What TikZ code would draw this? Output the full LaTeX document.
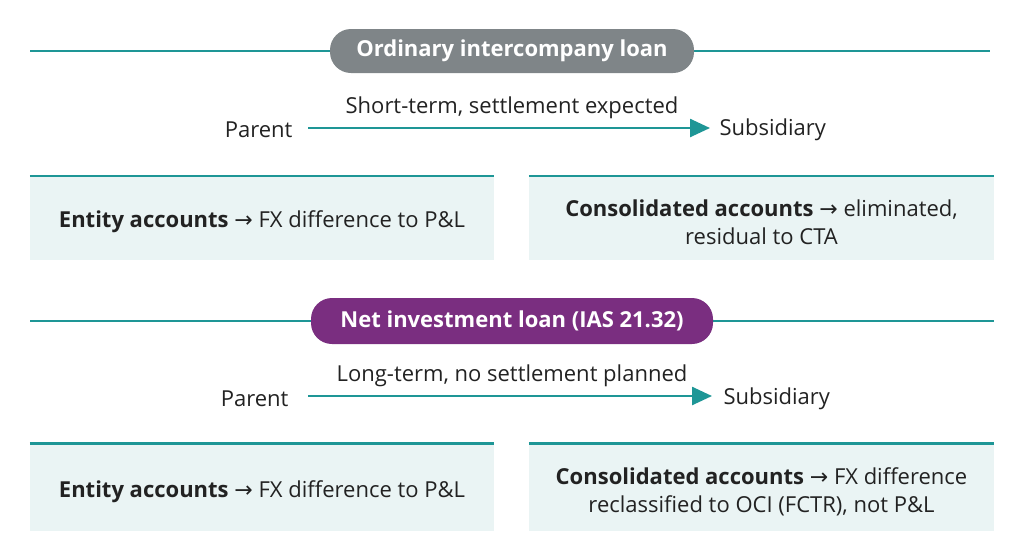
\documentclass[tikz,border=0pt]{standalone}
\usepackage{fontspec}
\setmainfont{Open Sans}
\newfontfamily\symf{DejaVu Sans}
\newcommand{\myarr}{{\symf →}}
\usetikzlibrary{arrows.meta}
\definecolor{teal1}{HTML}{1E9696}
\definecolor{boxbg}{HTML}{EAF4F4}
\definecolor{pillgray}{HTML}{7F8588}
\definecolor{pillpurple}{HTML}{7A2E80}
\definecolor{txt}{HTML}{222222}
\begin{document}
\begin{tikzpicture}[x=1pt,y=-1pt,
  rule/.style={teal1,line width=2.5pt},
  pill/.style={rounded corners=21pt,minimum height=44pt,text=white,font=\fontsize{22}{26}\selectfont\bfseries,inner xsep=18pt},
  lbl/.style={text=txt,font=\fontsize{22}{26}\selectfont},
  box/.style={fill=boxbg,draw=none,minimum height=84pt},
  btxt/.style={text=txt,font=\fontsize{22}{28}\selectfont,align=center},
  arr/.style={teal1,line width=2.5pt,-{Triangle[length=20pt,width=18pt]}}]
\useasboundingbox (0,0) rectangle (1024,558);
% section 1
\coordinate (l1a) at (30,51); \coordinate (l1b) at (990,51);
\draw[rule] (l1a) -- (l1b);
\node[pill,fill=pillgray,minimum width=364pt] (p1) at (512,51) {\raisebox{-2pt}{Ordinary intercompany loan}};
\node[lbl,anchor=east] (par1) at (296,130) {Parent};
\node[lbl,anchor=west] (sub1) at (716,130) {Subsidiary};
\draw[arr] (308,128) coordinate(a1) -- (710,128) coordinate(b1);
\node[lbl] (t1) at (512,108) {Short-term, settlement expected};
\node[box,minimum width=464pt] (b1l) at (262,218) {};
\node[box,minimum width=465pt] (b1r) at (761.5,218) {};
\node[btxt] (t1l) at (262,222) {\textbf{Entity accounts} \myarr{} FX difference to P\&L};
\node[btxt] (t1r) at (761.5,222) {\textbf{Consolidated accounts} \myarr{} eliminated,\\residual to CTA};
\draw[rule] (b1l.north west) -- (b1l.north east);
\draw[rule] (b1r.north west) -- (b1r.north east);
% section 2
\coordinate (l2a) at (30,321); \coordinate (l2b) at (994,321);
\draw[rule] (l2a) -- (l2b);
\node[pill,fill=pillpurple,minimum width=402pt,minimum height=46pt] (p2) at (512,321) {\raisebox{-2pt}{Net investment loan (IAS 21.32)}};
\node[lbl,anchor=east] (par2) at (292,399) {Parent};
\node[lbl,anchor=west] (sub2) at (720,399) {Subsidiary};
\draw[arr] (308,396) coordinate(a2) -- (712,396) coordinate(b2);
\node[lbl] (t2) at (512,376) {Long-term, no settlement planned};
\node[box,minimum width=464pt,minimum height=87pt] (b2l) at (262,487) {};
\node[box,minimum width=465pt,minimum height=87pt] (b2r) at (761.5,487) {};
\node[btxt] (t2l) at (262,492) {\textbf{Entity accounts} \myarr{} FX difference to P\&L};
\node[btxt] (t2r) at (761.5,492) {\textbf{Consolidated accounts} \myarr{} FX difference\\reclassified to OCI (FCTR), not P\&L};
\draw[rule] (b2l.north west) -- (b2l.north east);
\draw[rule] (b2r.north west) -- (b2r.north east);
\end{tikzpicture}
\end{document}
